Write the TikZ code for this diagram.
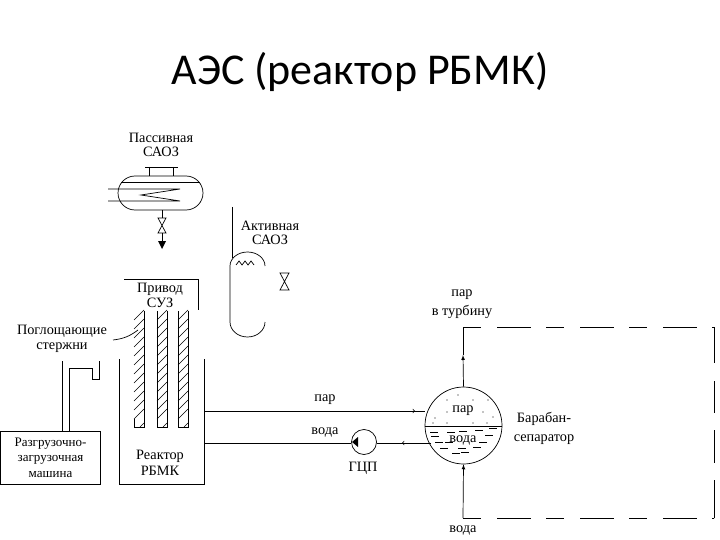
\documentclass[tikz,border=0pt]{standalone}
\usepackage{fontspec}
\setmainfont{Liberation Serif}
\newfontfamily\titlefont{Carlito}
\usepackage{tikz}

\begin{document}
\begin{tikzpicture}[x=1pt,y=-1pt,
    lbl/.style={align=center,font=\fontsize{14.3}{14.5}\selectfont,inner sep=0pt},
    pipe/.style={draw,line width=0.7pt},
    pt/.style={circle,fill=black,minimum size=1.4pt,inner sep=0pt}]
\useasboundingbox (0,0) rectangle (720,540);
\node[font=\fontsize{44}{48}\selectfont\titlefont,inner sep=0pt] (title) at (360,72) {АЭС (реактор РБМК)};

% passive
\node[lbl] (passive) at (161,145) {Пассивная\\САОЗ};
\node[draw,line width=0.7pt,rounded corners=17pt,minimum width=85pt,minimum height=34pt,inner sep=0pt] (tank) at (160.5,193) {};
\draw[pipe] (145,167) -- (178,167);
\draw[pipe] (149,167) -- (149,176);
\draw[pipe] (173,167) -- (173,176);
\draw[pipe] (121,182) -- (200,182);
\draw[pipe] (108,189) -- (180,189) -- (141,195) -- (180,201) -- (108,201);
\coordinate (v1) at (162,218);
\coordinate (v2) at (162,233);
\draw[pipe] (tank.south -| v1) -- (v1);
\draw[pipe] (158,218) -- (166,218) -- (158,233) -- (166,233) -- cycle;
\draw[pipe] (v2) -- (162,241);
\fill (158,241) -- (166,241) -- (162,249) -- cycle;

% active
\node[lbl] (active) at (270,233) {Активная\\САОЗ};
\draw[pipe] (232,207) -- (232,258);
\draw[pipe] (265,266) arc (0:-180:17.5 and 14) -- (230,322) arc (180:0:17.5 and 15);
\draw[pipe] (236,265) -- (239,261) -- (242,265) -- (245,261) -- (248,265) -- (251,261) -- (254,265);
\draw[pipe] (280,273) -- (289,273) -- (280,290) -- (289,290) -- cycle;

% drive and rods
\node[lbl] (drive) at (160,295.5) {Привод\\СУЗ};
\draw[pipe] (124,279) -- (198,279) -- (198,310);
\foreach \rx in {134,157,178} {
  \foreach \hy in {320,329,...,419}
    \draw[line width=0.5pt] (\rx,\hy) -- ++(10,-10);
  \draw[line width=0.5pt] (\rx+6,427) -- (\rx+10,423);
  \draw[pipe] (\rx+10,311) -- (\rx+10,427) -- (\rx,427);
}
\draw[pipe] (134,427) -- (134,419);
\draw[pipe] (157,427) -- (157,311);
\draw[pipe] (178,427) -- (178,311);
\node[lbl] (rods) at (62,339) {Поглощающие\\стержни};
\coordinate (rodend) at (113,340);
\draw[pipe] (rodend) to[bend right=15] (138,330);

% reactor
\draw[pipe] (119,359) -- (119,484) -- (204,484) -- (204,359);
\node[lbl,font=\fontsize{14.3}{16}\selectfont] (reactor) at (160,463) {Реактор\\РБМК};

% machine
\node[draw,line width=0.7pt,minimum width=100pt,minimum height=53pt,inner sep=0pt,align=center,font=\fontsize{13}{15.5}\selectfont] (machine) at (50.5,457.5) {Разгрузочно-\\загрузочная\\машина};
\draw[pipe] (62,431) -- (62,361);
\draw[pipe] (69,431) -- (69,368) -- (92,368) -- (92,379) -- (99,379) -- (99,361);

% drum
\node[draw,circle,line width=0.7pt,minimum size=77pt,inner sep=0pt] (drum) at (463.5,425.5) {};
\draw[pipe] (425,426) -- (502,426);
\node[lbl] (steam) at (463,411) {пар};
\node[lbl] (water) at (463,441) {вода};
\node[lbl,font=\fontsize{14.3}{19}\selectfont] (sep) at (544,428) {Барабан-\\сепаратор};
\foreach \px/\py in {447/400,458/395,473/400,488/400,447/412,483/412,493/417,435/418,447/423,473/423,487/423,433/423}
  \node[pt] at (\px,\py) {};
\foreach \px/\py in {430/432,447/432,459/431,475/430,489/428,431/436,485/435,435/442,445/442,479/442,440/448,458/448,473/447,461/452,452/453}
  \draw[line width=0.5pt] (\px,\py) -- ++(8,0);

% pump
\node[draw,circle,line width=0.7pt,minimum size=25pt,inner sep=0pt] (pump) at (364,442) {};
\node[lbl] (gcp) at (363,468) {ГЦП};
\fill (352,442) -- (358,437) -- (358,447) -- cycle;

% links
\coordinate (hotleg) at (204,411);
\coordinate (coldleg) at (204,443);
\draw[pipe] (hotleg) -- (drum.west |- hotleg);
\draw[pipe,-to] (hotleg) -- (415,411);
\draw[pipe] (coldleg) -- (pump.west |- coldleg);
\draw[pipe] (pump.east |- coldleg) -- (431,443);
\draw[pipe,-to] (431,443) -- (402,443);
\node[lbl] (steamlab) at (325,400) {пар};
\node[lbl] (waterlab) at (325,433) {вода};

% outlets
\node[lbl,font=\fontsize{14.3}{19}\selectfont] (turbine) at (462,304.5) {пар\\в турбину};
\node[lbl] (waterin) at (463,531) {вода};
\coordinate (topc) at (463,327);
\coordinate (botc) at (463,518);
\coordinate (topr) at (714,327);
\coordinate (botr) at (714,518);
\coordinate (tipc) at (463,355);
\draw[pipe] (tipc) -- (topc);
\draw[pipe,-latex] (drum.north) -- (tipc);
\draw[pipe,-latex] (botc) -- (drum.south);
\draw[pipe,dash pattern=on 18pt off 16pt on 34pt off 15pt] (topc) -- (topr);
\draw[pipe,dash pattern=on 18pt off 16pt on 34pt off 15pt] (botc) -- (botr);
\draw[pipe,dash pattern=on 36pt off 18pt on 32pt off 17pt on 33pt off 17pt on 38pt off 0pt] (topr) -- (botr);
\end{tikzpicture}
\end{document}
